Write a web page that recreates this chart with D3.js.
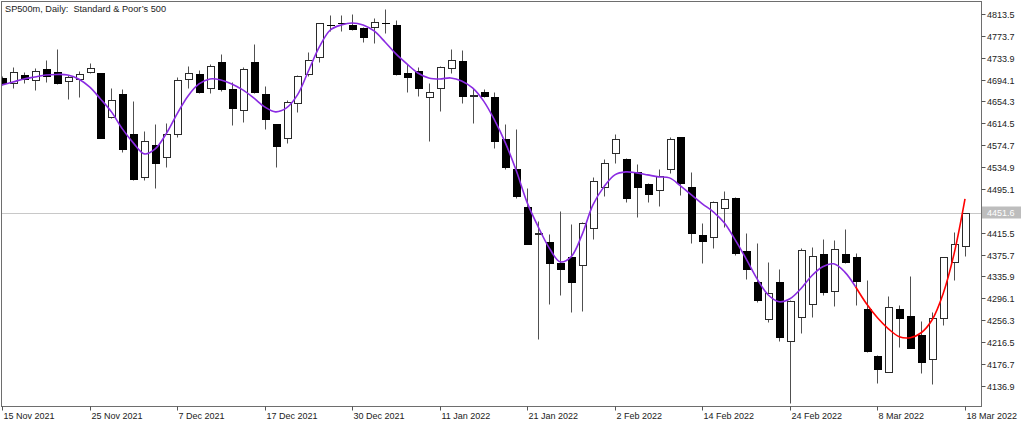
<!DOCTYPE html>
<html><head><meta charset="utf-8">
<script src="https://cdn.jsdelivr.net/npm/d3@7/dist/d3.min.js"></script>
<style>
html,body{margin:0;padding:0;background:#fff;}
svg{display:block;}
text{font-family:"Liberation Sans",Arial,sans-serif;white-space:pre;}
</style></head>
<body>
<svg id="chart" width="1024" height="424"></svg>
<script>
const title = "SP500m, Daily:  Standard & Poor\u2019s 500";
const dates = ["2021-11-15","2021-11-16","2021-11-17","2021-11-18","2021-11-19","2021-11-22","2021-11-23","2021-11-24","2021-11-25","2021-11-26","2021-11-29","2021-11-30","2021-12-01","2021-12-02","2021-12-03","2021-12-06","2021-12-07","2021-12-08","2021-12-09","2021-12-10","2021-12-13","2021-12-14","2021-12-15","2021-12-16","2021-12-17","2021-12-20","2021-12-21","2021-12-22","2021-12-23","2021-12-27","2021-12-28","2021-12-29","2021-12-30","2021-12-31","2022-01-03","2022-01-04","2022-01-05","2022-01-06","2022-01-07","2022-01-10","2022-01-11","2022-01-12","2022-01-13","2022-01-14","2022-01-17","2022-01-18","2022-01-19","2022-01-20","2022-01-21","2022-01-24","2022-01-25","2022-01-26","2022-01-27","2022-01-28","2022-01-31","2022-02-01","2022-02-02","2022-02-03","2022-02-04","2022-02-07","2022-02-08","2022-02-09","2022-02-10","2022-02-11","2022-02-14","2022-02-15","2022-02-16","2022-02-17","2022-02-18","2022-02-21","2022-02-22","2022-02-23","2022-02-24","2022-02-25","2022-02-28","2022-03-01","2022-03-02","2022-03-03","2022-03-04","2022-03-07","2022-03-08","2022-03-09","2022-03-10","2022-03-11","2022-03-14","2022-03-15","2022-03-16","2022-03-17","2022-03-18"];
const open = [4697.1,4688.0,4702.6,4693.5,4713.5,4708.0,4691.7,4695.3,4708.0,4706.2,
 4626.2,4668.0,4595.3,4517.0,4575.2,4553.4,4595.3,4695.3,4704.4,4678.9,
 4726.2,4677.1,4638.9,4726.2,4668.0,4613.4,4588.0,4651.6,4704.4,4735.3,
 4794.0,4796.5,4793.5,4788.1,4789.9,4796.5,4793.5,4706.2,4709.8,4662.6,
 4678.9,4715.3,4728.0,4664.4,4671.7,4662.6,4586.2,4531.6,4462.4,4413.4,
 4398.8,4360.6,4371.5,4356.9,4424.3,4498.8,4560.7,4549.8,4526.1,4504.3,
 4493.4,4531.6,4589.8,4498.8,4411.5,4407.9,4460.6,4478.8,4382.4,4325.9,
 4258.7,4325.9,4218.7,4262.4,4286.0,4376.9,4309.7,4377.5,4371.5,4276.9,
 4191.4,4162.3,4276.9,4264.2,4229.6,4186.0,4260.6,4362.4,4391.5];
const high = [4700.8,4717.1,4708.0,4715.3,4729.9,4749.9,4702.6,4709.8,4724.4,4707.0,
 4678.9,4677.1,4655.3,4600.7,4613.4,4615.3,4698.9,4718.9,4711.7,4722.6,
 4740.8,4689.8,4717.1,4759.0,4682.6,4614.0,4657.1,4702.6,4744.4,4798.0,
 4811.7,4811.7,4813.5,4789.0,4806.3,4822.6,4802.6,4722.6,4717.1,4688.0,
 4718.0,4749.9,4748.1,4678.9,4677.1,4671.7,4613.4,4604.4,4497.0,4437.0,
 4413.4,4455.2,4431.5,4434.0,4517.0,4549.8,4595.3,4550.5,4540.7,4505.0,
 4531.6,4589.8,4590.5,4526.1,4433.4,4473.4,4491.5,4479.5,4415.2,4397.0,
 4362.4,4349.7,4292.0,4387.9,4389.7,4404.3,4402.4,4422.5,4378.8,4329.7,
 4192.0,4300.6,4284.2,4337.0,4255.1,4271.5,4372.0,4417.0,4452.0];
const low = [4685.0,4678.9,4688.0,4675.3,4689.8,4686.0,4658.9,4662.6,4707.0,4587.0,
 4625.0,4562.5,4511.6,4511.6,4497.0,4535.2,4589.8,4678.9,4669.8,4669.8,
 4673.5,4611.6,4617.1,4670.0,4604.4,4535.2,4578.9,4635.3,4700.8,4726.2,
 4782.6,4782.6,4785.0,4762.6,4760.8,4779.0,4703.0,4671.7,4664.4,4582.5,
 4637.1,4706.2,4651.6,4615.3,4662.6,4569.8,4531.6,4478.8,4394.0,4222.4,
 4286.0,4302.4,4271.5,4273.3,4404.3,4482.5,4542.5,4471.6,4444.3,4471.6,
 4464.3,4524.3,4484.3,4397.0,4360.6,4387.9,4426.1,4375.1,4331.5,4289.7,
 4253.3,4218.7,4105.9,4233.3,4262.4,4302.4,4282.4,4361.0,4284.2,4199.0,
 4142.3,4161.0,4207.8,4205.0,4160.5,4140.5,4247.8,4329.7,4373.3];
const close = [4688.0,4708.0,4695.3,4709.8,4700.8,4688.0,4698.9,4704.4,4715.3,4588.0,
 4657.1,4567.9,4513.4,4582.5,4542.5,4595.3,4693.5,4706.2,4671.7,4718.9,
 4677.1,4642.5,4713.5,4671.7,4622.5,4573.4,4653.5,4700.8,4729.9,4797.2,
 4793.5,4797.2,4786.2,4771.7,4799.0,4797.2,4704.4,4698.9,4678.9,4671.7,
 4717.1,4729.9,4664.4,4665.2,4664.4,4582.5,4535.2,4482.5,4395.2,4415.2,
 4360.6,4349.7,4326.0,4433.4,4509.8,4542.5,4586.2,4478.8,4498.8,4486.1,
 4518.9,4586.2,4506.1,4415.2,4400.6,4471.6,4477.0,4378.8,4349.7,4293.3,
 4306.0,4226.0,4291.5,4384.2,4373.3,4307.9,4386.0,4362.4,4327.9,4200.5,
 4167.8,4280.6,4260.6,4206.0,4180.5,4260.6,4371.5,4395.2,4451.6];
const ma = [4684.4,4689.8,4695.3,4698.9,4702.6,4703.5,4702.6,4695.3,4680.7,4658.9,
 4635.3,4604.4,4578.9,4558.9,4567.9,4595.3,4631.6,4664.4,4686.2,4695.3,
 4693.5,4686.2,4675.3,4660.7,4644.4,4635.3,4642.5,4666.2,4709.8,4753.5,
 4784.4,4793.5,4797.2,4793.5,4782.6,4762.6,4740.8,4722.6,4706.2,4697.1,
 4695.3,4697.1,4691.7,4678.9,4655.3,4620.7,4578.9,4528.0,4469.7,4426.1,
 4387.9,4362.4,4371.5,4411.5,4466.1,4498.8,4520.7,4526.1,4524.3,4520.7,
 4517.0,4515.2,4500.7,4484.3,4467.9,4453.4,4433.4,4402.4,4367.9,4331.5,
 4302.4,4289.7,4295.1,4313.3,4337.0,4353.3,4358.8,4344.2,4317.0,4286.0,
 4260.6,4240.5,4226.0,4224.2,4233.3,4256.9,4304.2,4376.9,4477.0];
const maRedFrom = 78;
const yTicks = [4813.5,4773.7,4733.9,4694.1,4654.3,4614.5,4574.7,4534.9,4495.1,4415.5,4375.7,4335.9,4296.1,4256.3,4216.5,4176.7,4136.9];
const xTickDates = ["2021-11-15","2021-11-25","2021-12-07","2021-12-17","2021-12-30","2022-01-11","2022-01-21","2022-02-02","2022-02-14","2022-02-24","2022-03-08","2022-03-18"];
const xTickLabels = ["15 Nov 2021","25 Nov 2021","7 Dec 2021","17 Dec 2021","30 Dec 2021","11 Jan 2022","21 Jan 2022","2 Feb 2022","14 Feb 2022","24 Feb 2022","8 Mar 2022","18 Mar 2022"];
const lastPrice = 4451.6;

const svg = d3.select("#chart");
const L = 1.5, T = 1.5, R = 981.5, B = 406.5;

const x = d3.scalePoint().domain(dates).range([2, 965]);
const y = d3.scaleLinear().domain([4136.9, 4813.5]).range([385.7, 14]);

const bars = dates.map((d, i) => ({d, o: open[i], h: high[i], l: low[i], c: close[i]}));

svg.append("defs").append("clipPath").attr("id", "plot")
  .append("rect").attr("x", L + 0.5).attr("y", T + 0.5).attr("width", R - L - 1).attr("height", B - T - 1);

const plot = svg.append("g").attr("clip-path", "url(#plot)");

// last price line
plot.append("line")
  .attr("x1", L).attr("x2", R)
  .attr("y1", Math.round(y(lastPrice)) + 0.5).attr("y2", Math.round(y(lastPrice)) + 0.5)
  .attr("stroke", "#c8c8c8").attr("stroke-width", 1);

const px = v => Math.round(v);
const g = plot.append("g");
bars.forEach(b => {
  const cx = px(x(b.d));
  g.append("line")
    .attr("x1", cx + 0.5).attr("x2", cx + 0.5)
    .attr("y1", px(y(b.h)) + 0.5).attr("y2", px(y(b.l)) + 0.5)
    .attr("stroke", "#505050").attr("stroke-width", 1);
  const top = px(y(Math.max(b.o, b.c))), bot = px(y(Math.min(b.o, b.c)));
  const bull = b.c >= b.o;
  if (bot - top < 1) {
    g.append("line")
      .attr("x1", cx - 3).attr("x2", cx + 5)
      .attr("y1", top + 0.5).attr("y2", top + 0.5)
      .attr("stroke", "#000").attr("stroke-width", 1);
  } else {
    g.append("rect")
      .attr("x", cx - 2.5).attr("y", top + 0.5)
      .attr("width", 7).attr("height", bot - top)
      .attr("fill", bull ? "#fff" : "#000")
      .attr("stroke", bull ? "#2a2a2a" : "#000").attr("stroke-width", 1);
  }
});

// moving average line
const line = d3.line().x((d, i) => x(d.d)).y(d => y(d.v)).curve(d3.curveCatmullRom.alpha(0.5));
const maPts = dates.map((d, i) => ({d, v: ma[i]}));
plot.append("path").datum(maPts.slice(0, maRedFrom + 1))
  .attr("d", line).attr("fill", "none").attr("stroke", "#8a2be2").attr("stroke-width", 1.6);
plot.append("path").datum(maPts.slice(maRedFrom))
  .attr("d", line).attr("fill", "none").attr("stroke", "#ff0000").attr("stroke-width", 1.6);

// frame
svg.append("rect").attr("x", L).attr("y", T).attr("width", R - L).attr("height", B - T)
  .attr("fill", "none").attr("stroke", "#6e6e6e").attr("stroke-width", 1);

// title
svg.append("text").attr("x", 5).attr("y", 12).attr("font-size", 9.2).attr("fill", "#222")
  .attr("xml:space", "preserve").text(title);

// y axis
const ya = svg.append("g");
yTicks.forEach(v => {
  const yy = px(y(v)) + 0.5;
  ya.append("line").attr("x1", R).attr("x2", R + 4).attr("y1", yy).attr("y2", yy).attr("stroke", "#555");
  ya.append("text").attr("x", R + 5.5).attr("y", yy + 3.2).attr("font-size", 9).attr("fill", "#222").text(d3.format(".1f")(v));
});

// last price label
const ly = px(y(lastPrice)) - 0.5;
svg.append("rect").attr("x", R + 0.5).attr("y", ly - 6).attr("width", 39).attr("height", 12).attr("fill", "#bdbdbd");
svg.append("text").attr("x", R + 5.5).attr("y", ly + 3.5).attr("font-size", 9).attr("fill", "#fff").text(d3.format(".1f")(lastPrice));

// x axis
const xa = svg.append("g");
xTickDates.forEach((d, i) => {
  const xx = px(x(d)) + 0.5;
  xa.append("line").attr("x1", xx).attr("x2", xx).attr("y1", B).attr("y2", B + 4).attr("stroke", "#555");
  xa.append("text").attr("x", xx + 1).attr("y", 418.5).attr("font-size", 9).attr("fill", "#222").text(xTickLabels[i]);
});
</script>
</body></html>
